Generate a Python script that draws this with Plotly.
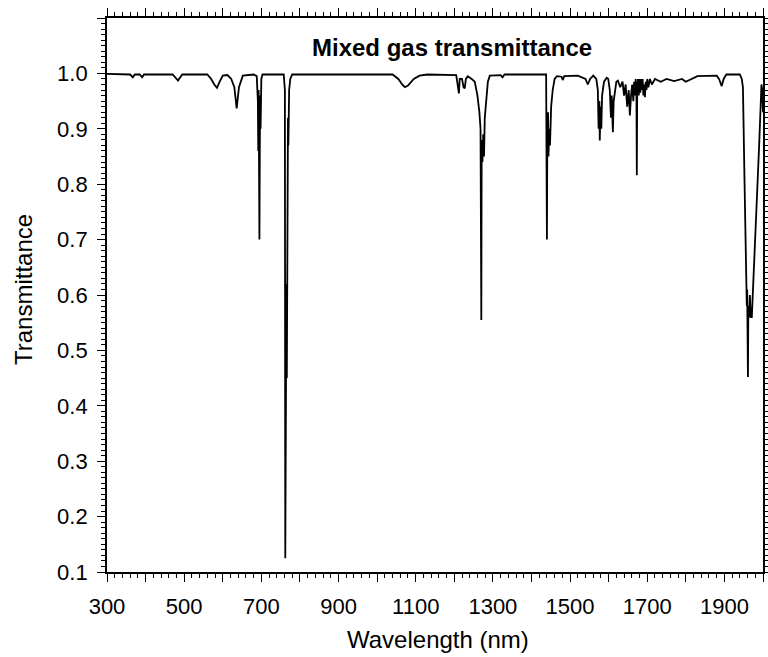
import plotly.graph_objects as go

# Mixed gas transmittance spectrum, digitised (wavelength in nm, transmittance 0-1)
wavelength_nm = [
    300, 340, 360, 367, 372, 385, 391, 396, 470, 484, 495, 560, 570, 578, 585, 592, 600, 612,
    622, 630, 636, 642, 652, 680, 688, 691, 692, 693, 695, 696, 697, 698, 700, 703,
    758, 761, 762, 763, 764, 765, 766, 767, 768, 769, 770, 772, 775, 780,
    1040, 1055, 1065, 1072, 1080, 1095, 1110, 1130, 1205, 1210, 1212, 1214, 1220, 1224, 1227,
    1230, 1235, 1245, 1253, 1260, 1265, 1268, 1270, 1271, 1273, 1275, 1277, 1279, 1283, 1287,
    1292, 1320, 1325, 1330, 1438, 1439, 1440, 1441, 1443, 1444, 1446, 1448, 1451, 1455, 1460,
    1466, 1478, 1481, 1485, 1520, 1540, 1546, 1552, 1560, 1568, 1572, 1574, 1576, 1577, 1579,
    1581, 1583, 1588, 1595, 1599, 1603, 1606, 1608, 1611, 1613, 1616, 1620, 1624, 1630, 1636,
    1640, 1644, 1648, 1652, 1655, 1658, 1661, 1664, 1666, 1668, 1670, 1672, 1673, 1674, 1676,
    1678, 1680, 1682, 1684, 1686, 1688, 1690, 1692, 1694, 1696, 1698, 1700, 1703, 1707, 1712,
    1720, 1735, 1750, 1770, 1790, 1800, 1815, 1830, 1880, 1886, 1893, 1898, 1905, 1940, 1945,
    1948, 1952, 1956, 1958, 1959, 1960, 1961, 1962, 1964, 1966, 1968, 1971, 1980, 1990, 1996,
    1998, 2000,
]
transmittance = [
    0.999, 0.999, 0.998, 0.993, 0.998, 0.998, 0.993, 0.998, 0.998, 0.987, 0.998, 0.998, 0.99, 0.98, 0.974, 0.985, 0.996, 0.997,
    0.99, 0.975, 0.937, 0.975, 0.996, 0.998, 0.995, 0.95, 0.86, 0.97, 0.70, 0.87, 0.96, 0.90, 0.99, 0.998,
    0.998, 0.97, 0.125, 0.55, 0.30, 0.62, 0.45, 0.86, 0.62, 0.92, 0.87, 0.97, 0.99, 0.998,
    0.998, 0.99, 0.98, 0.975, 0.978, 0.99, 0.996, 0.998, 0.997, 0.975, 0.964, 0.99, 0.99, 0.975, 0.973,
    0.99, 0.995, 0.99, 0.985, 0.96, 0.93, 0.90, 0.555, 0.88, 0.84, 0.89, 0.85, 0.92, 0.96, 0.985,
    0.996, 0.997, 0.993, 0.998, 0.998, 0.90, 0.70, 0.86, 0.93, 0.85, 0.90, 0.87, 0.94, 0.97, 0.99,
    0.995, 0.994, 0.988, 0.995, 0.996, 0.99, 0.98, 0.99, 0.996, 0.99, 0.97, 0.90, 0.95, 0.879, 0.94,
    0.90, 0.96, 0.985, 0.992, 0.99, 0.97, 0.92, 0.96, 0.894, 0.95, 0.97, 0.985, 0.987, 0.975, 0.985,
    0.96, 0.98, 0.94, 0.97, 0.924, 0.96, 0.98, 0.95, 0.985, 0.96, 0.99, 0.97, 0.816, 0.97, 0.99,
    0.96, 0.99, 0.965, 0.99, 0.97, 0.99, 0.96, 0.98, 0.957, 0.985, 0.97, 0.99, 0.975, 0.99, 0.98,
    0.99, 0.985, 0.99, 0.986, 0.99, 0.985, 0.99, 0.995, 0.996, 0.99, 0.977, 0.99, 0.998, 0.998, 0.99,
    0.975, 0.81, 0.63, 0.58, 0.61, 0.56, 0.452, 0.58, 0.56, 0.60, 0.56, 0.56, 0.70, 0.87, 0.98,
    0.97, 0.93,
]

x_tick_values = [300, 400, 500, 600, 700, 800, 900, 1000, 1100, 1200, 1300, 1400, 1500, 1600, 1700, 1800, 1900, 2000]
x_tick_labels = ["300", "", "500", "", "700", "", "900", "", "1100", "", "1300", "", "1500", "", "1700", "", "1900", ""]
y_tick_values = [0.1, 0.2, 0.3, 0.4, 0.5, 0.6, 0.7, 0.8, 0.9, 1.0, 1.1]
y_tick_labels = ["0.1", "0.2", "0.3", "0.4", "0.5", "0.6", "0.7", "0.8", "0.9", "1.0", ""]

FONT = "Liberation Sans, Arial, Helvetica, sans-serif"

fig = go.Figure(
    go.Scatter(
        x=wavelength_nm,
        y=transmittance,
        mode="lines",
        line=dict(color="black", width=1.8),
        hoverinfo="x+y",
    )
)

axis_common = dict(
    automargin=False,
    showgrid=False,
    zeroline=False,
    showline=True,
    linecolor="black",
    linewidth=1.8,
    mirror="ticks",
    ticks="outside",
    tickcolor="black",
    tickwidth=1.3,
    ticklen=8,
    tickfont=dict(family=FONT, size=22, color="black"),
)

fig.update_xaxes(
    range=[300, 2000],
    tickmode="array",
    tickvals=x_tick_values,
    ticktext=x_tick_labels,
    ticklabelstandoff=6,
    minor=dict(dtick=20, ticklen=4, tickcolor="black", tickwidth=1.1, ticks="outside"),
    **axis_common,
)
fig.update_yaxes(
    range=[0.1, 1.1],
    tickmode="array",
    tickvals=y_tick_values,
    ticktext=y_tick_labels,
    ticklabelstandoff=5,
    minor=dict(dtick=0.01, ticklen=4, tickcolor="black", tickwidth=1.1, ticks="outside"),
    **axis_common,
)

fig.update_layout(
    width=768,
    height=657,
    margin=dict(l=107, r=5, t=18, b=85, autoexpand=False),
    paper_bgcolor="white",
    plot_bgcolor="white",
    showlegend=False,
    font=dict(family=FONT, color="black"),
    annotations=[
        dict(
            text="<b>Mixed gas transmittance</b>",
            xref="paper", yref="paper", x=0.526, y=1.0, yshift=-14,
            xanchor="center", yanchor="top", showarrow=False,
            font=dict(family=FONT, size=24, color="black"),
        ),
        dict(
            text="Wavelength (nm)",
            xref="paper", yref="paper", x=0.5, y=0, yshift=-52, xshift=3,
            xanchor="center", yanchor="top", showarrow=False,
            font=dict(family=FONT, size=24, color="black"),
        ),
        dict(
            text="Transmittance",
            xref="paper", yref="paper", x=0, y=0.5, xshift=-84, yshift=5,
            xanchor="center", yanchor="middle", textangle=-90, showarrow=False,
            font=dict(family=FONT, size=24, color="black"),
        ),
    ],
)

fig.write_html("out.html")
